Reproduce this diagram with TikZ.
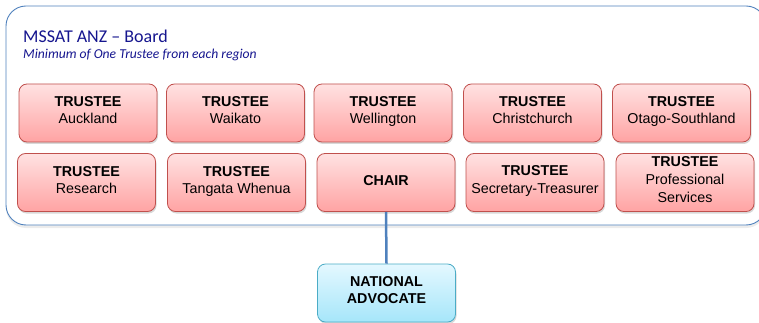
\documentclass[tikz,border=0pt]{standalone}
\usepackage{fontspec}
\setmainfont{Liberation Sans}
\newfontfamily\boardfont{Carlito}
\usepackage{tikz}
\usetikzlibrary{shapes,positioning,calc,shadows,arrows.meta}

\definecolor{boardline}{HTML}{4F81BD}
\definecolor{boardtext}{HTML}{16168F}
\definecolor{boxline}{HTML}{C0504D}
\definecolor{boxtop}{HTML}{FFE2E2}
\definecolor{boxbot}{HTML}{FFA3A3}
\definecolor{advline}{HTML}{4BACC6}
\definecolor{advtop}{HTML}{E4F8FF}
\definecolor{advbot}{HTML}{A6E6FA}

\begin{document}
\begin{tikzpicture}[x=1pt, y=-1pt,
    board/.style={draw=boardline, line width=0.9pt, rounded corners=20pt, fill=white,
        drop shadow={shadow xshift=0pt, shadow yshift=-3pt, opacity=0.15}},
    trustee/.style={rectangle, rounded corners=8pt, draw=boxline, line width=0.8pt,
        top color=boxtop, bottom color=boxbot, minimum width=138pt, minimum height=58pt,
        align=center, font=\fontsize{14.3}{17}\selectfont,
        execute at begin node=\strut, execute at end node=\strut,
        drop shadow={shadow xshift=1pt, shadow yshift=-2pt, opacity=0.3}},
    advocate/.style={trustee, draw=advline, top color=advtop, bottom color=advbot}]
    \useasboundingbox (0,0) rectangle (759,323);

    % board frame
    \path[board] (6,6) rectangle (766,225);
    \node [anchor=base west, text=boardtext, font=\boardfont\fontsize{18}{20}\selectfont, inner sep=0pt] (title) at (23,43) {MSSAT ANZ – Board};
    \node [anchor=base west, text=boardtext, font=\boardfont\itshape\fontsize{13.6}{15}\selectfont, inner sep=0pt] (sub) at (23,59) {Minimum of One Trustee from each region};

    % first row
    \node [trustee] (auck) at (88,113) {\textbf{TRUSTEE}\\Auckland};
    \node [trustee] (waik) at (235.5,113) {\textbf{TRUSTEE}\\Waikato};
    \node [trustee] (well) at (383,113) {\textbf{TRUSTEE}\\Wellington};
    \node [trustee] (chch) at (532.5,113) {\textbf{TRUSTEE}\\Christchurch};
    \node [trustee] (otag) at (681.5,113) {\textbf{TRUSTEE}\\Otago-Southland};

    % second row
    \node [trustee] (rsch) at (86.5,182.5) {\textbf{TRUSTEE}\\Research};
    \node [trustee] (tang) at (236.5,182.5) {\textbf{TRUSTEE}\\Tangata Whenua};
    \node [trustee] (chair) at (386,182.5) {\textbf{CHAIR}};
    \node [trustee, font=\fontsize{14.3}{18}\selectfont] (sect) at (535,182.5) {\textbf{TRUSTEE}\\Secretary-Treasurer};
    \node [trustee, font=\fontsize{14.3}{18}\selectfont] (prof) at (685,182.5) {\textbf{TRUSTEE}\\Professional\\Services};

    % advocate
    \node [advocate] (adv) at (386.5,293) {\textbf{NATIONAL}\\\textbf{ADVOCATE}};

    \draw [boardline, line width=2.5pt] (chair.south) -- (adv.north);
\end{tikzpicture}
\end{document}
